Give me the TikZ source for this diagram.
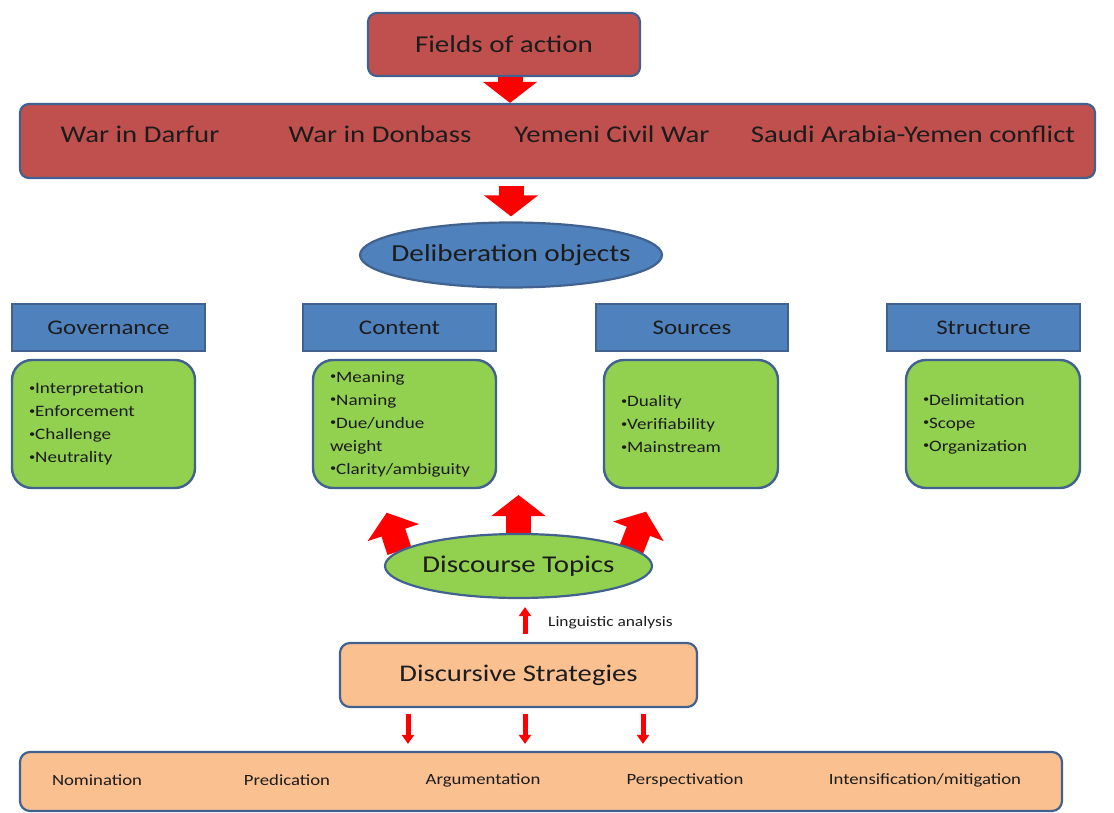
\documentclass[tikz,border=0pt]{standalone}
\usepackage{fontspec}
\setmainfont[FakeStretch=1.2]{Carlito}
\usetikzlibrary{arrows.meta,positioning,backgrounds,shapes.geometric}
\definecolor{fieldred}{HTML}{C0504D}
\definecolor{edgeblue}{HTML}{41628F}
\definecolor{catblue}{HTML}{4F81BD}
\definecolor{listgreen}{HTML}{92D050}
\definecolor{stratpeach}{HTML}{FAC090}
\definecolor{arrred}{HTML}{FF0000}
\definecolor{txtdark}{HTML}{1C1C1C}
\newcommand{\bul}{\raisebox{0.3ex}{\scalebox{0.65}{•}}}

\begin{document}
\begin{tikzpicture}[
  x=1pt,y=-1pt,
  fieldbox/.style={rounded corners=9pt, draw=edgeblue, line width=2.2pt, fill=fieldred, text=txtdark, inner sep=0pt},
  catbox/.style={draw=edgeblue, line width=1.6pt, fill=catblue, text=txtdark, minimum height=47pt, inner sep=0pt, font=\fontsize{20.8}{24}\selectfont},
  listbox/.style={rounded corners=20pt, draw=edgeblue, line width=2.4pt, fill=listgreen, text=txtdark, minimum height=128pt, align=left, inner xsep=17pt, inner ysep=0pt, font=\fontsize{15.9}{23}\selectfont},
  oval/.style={ellipse, draw=edgeblue, line width=2.2pt, text=txtdark, inner xsep=-40pt, inner ysep=-8pt, font=\fontsize{24.4}{28}\selectfont},
  stratbox/.style={rounded corners=10pt, draw=edgeblue, line width=2.2pt, fill=stratpeach, text=txtdark, inner sep=0pt},
  lbl/.style={text=txtdark, inner sep=0pt},
  bigarr/.style={-{Triangle[width=53pt,length=21pt]}, line width=25pt, draw=arrred},
  thinarr/.style={-{Triangle[width=12pt,length=9pt]}, line width=5pt, draw=arrred},
]
\useasboundingbox (0,0) rectangle (1114,813);

% top: fields of action and the wars
\node[fieldbox,minimum width=272pt,minimum height=63pt,font=\fontsize{24.2}{28}\selectfont] (fields) at (504,44.5) {Fields of action};
\node[fieldbox,minimum width=1075pt,minimum height=74pt] (wars) at (557.5,141) {};
\foreach \x/\t/\n in {140/War in Darfur/w1,380/War in Donbass/w2,612/Yemeni Civil War/w3,913/Saudi Arabia-Yemen conflict/w4}
 \node[lbl,font=\fontsize{24}{28}\selectfont] (\n) at (\x,134) {\t};
\node[oval,fill=catblue,minimum width=302pt,minimum height=65pt] (delib) at (511,255) {Deliberation objects};
\draw[bigarr] ([xshift=6pt]fields.south) -- ([xshift=6pt]fields.south |- wars.north);
\draw[bigarr,shorten <=7pt,shorten >=5pt] (wars.south -| delib.north) -- (delib.north);

% categories
\node[catbox,minimum width=193pt] (gov) at (108.5,327.5) {Governance};
\node[catbox,minimum width=193pt] (con) at (399.5,327.5) {Content};
\node[catbox,minimum width=192pt] (src) at (692,327.5) {Sources};
\node[catbox,minimum width=193pt] (str) at (983.5,327.5) {Structure};
\node[listbox,text width=149pt] (govlist) at (103.5,424) {\bul Interpretation\\\bul Enforcement\\\bul Challenge\\\bul Neutrality};
\node[listbox,text width=149pt] (conlist) at (404.5,424) {\bul Meaning\\\bul Naming\\\bul Due/undue\\weight\\\bul Clarity/ambiguity};
\node[listbox,text width=140pt] (srclist) at (691,424) {\bul Duality\\\bul Verifiability\\\bul Mainstream};
\node[listbox,text width=140pt] (strlist) at (993,424) {\bul Delimitation\\\bul Scope\\\bul Organization};

% discourse topics
\node[oval,fill=listgreen,minimum width=267pt,minimum height=64pt,font=\fontsize{24.1}{28}\selectfont] (topics) at (518.5,566) {Discourse Topics};
\coordinate (tipl) at (386.7,512.7);
\coordinate (tipm) at (518.5,495);
\coordinate (tipr) at (646,511.7);
\begin{scope}[on background layer]
\draw[bigarr] ([shift={(15.5,-15)}]topics.west) -- (tipl);
\draw[bigarr] ([yshift=-2pt]topics.north) -- (tipm);
\draw[bigarr] ([shift={(-22,-16)}]topics.east) -- (tipr);
\end{scope}

% strategies
\node[stratbox,minimum width=357pt,minimum height=64pt,font=\fontsize{23.9}{28}\selectfont] (strat) at (518.5,675) {Discursive Strategies};
\draw[thinarr,shorten <=8pt,shorten >=8pt] ([xshift=6.5pt]strat.north) -- ([xshift=6.5pt]strat.north |- topics.south);
\node[lbl,font=\fontsize{14.5}{16}\selectfont,anchor=west] (ling) at (548,623) {Linguistic analysis};
\node[stratbox,minimum width=1042pt,minimum height=59pt] (bottom) at (541,781.5) {};
\foreach \dx in {-110.5,6.5,124.5}
 \draw[thinarr,shorten <=6pt,shorten >=7pt] ([xshift=\dx pt]strat.south) -- ([xshift=\dx pt]strat.south |- bottom.north);
\foreach \x/\t/\n in {97/Nomination/s1,287/Predication/s2,483/Argumentation/s3,685/Perspectivation/s4,925/{Intensification/mitigation}/s5}
 \node[lbl,font=\fontsize{15.6}{18}\selectfont] (\n) at (\x,780) {\t};

\end{tikzpicture}
\end{document}
